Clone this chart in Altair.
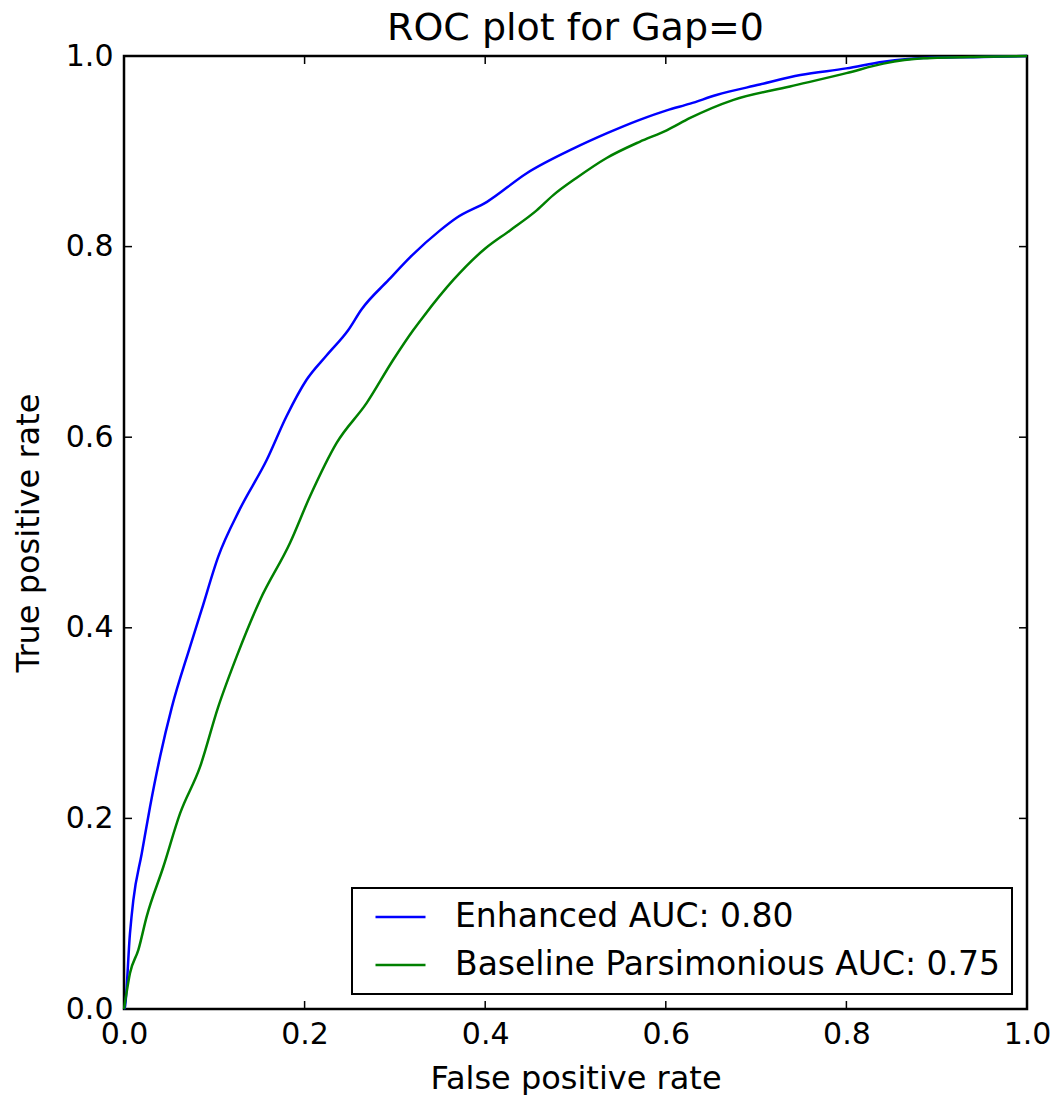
import altair as alt
import pandas as pd

# ---- data ----
enh_label = "Enhanced AUC: 0.80"
base_label = "Baseline Parsimonious AUC: 0.75"

enh_fpr = [0.0, 0.001, 0.0066, 0.0103, 0.0196, 0.0288, 0.040, 0.0528, 0.0731, 0.086,
           0.1045, 0.128, 0.158, 0.180, 0.202, 0.2245, 0.2484, 0.263, 0.293, 0.317,
           0.350, 0.368, 0.402, 0.446, 0.498, 0.535, 0.571, 0.601, 0.627, 0.656,
           0.704, 0.749, 0.800, 0.841, 0.885, 0.950, 1.0]
enh_tpr = [0.0, 0.002, 0.079, 0.114, 0.163, 0.212, 0.265, 0.316, 0.380, 0.419,
           0.475, 0.524, 0.576, 0.622, 0.660, 0.686, 0.7125, 0.734, 0.765, 0.789,
           0.817, 0.830, 0.847, 0.877, 0.903, 0.919, 0.933, 0.943, 0.950, 0.959,
           0.970, 0.980, 0.987, 0.994, 0.998, 0.999, 1.0]

base_fpr = [0.0, 0.001, 0.0066, 0.0159, 0.0251, 0.0435, 0.062, 0.0842, 0.104, 0.1248,
            0.1506, 0.1838, 0.206, 0.2355, 0.2688, 0.298, 0.3204, 0.3315, 0.3647, 0.400,
            0.4275, 0.457, 0.4754, 0.501, 0.5345, 0.571, 0.601, 0.627, 0.675, 0.7375,
            0.800, 0.841, 0.885, 0.952, 1.0]
base_tpr = [0.0, 0.006, 0.0375, 0.062, 0.097, 0.149, 0.205, 0.254, 0.316, 0.370,
            0.429, 0.489, 0.538, 0.594, 0.636, 0.681, 0.7125, 0.7265, 0.765, 0.798,
            0.817, 0.838, 0.854, 0.872, 0.893, 0.910, 0.922, 0.935, 0.954, 0.968,
            0.982, 0.992, 0.9976, 0.9993, 1.0]

tick_values = [0.0, 0.2, 0.4, 0.6, 0.8, 1.0]

W, H = 903, 953
FONT = "DejaVu Sans"

enh_df = pd.DataFrame({"fpr": enh_fpr, "tpr": enh_tpr, "model": enh_label,
                       "i": range(len(enh_fpr))})
base_df = pd.DataFrame({"fpr": base_fpr, "tpr": base_tpr, "model": base_label,
                        "i": range(len(base_fpr))})
ticks_df = pd.DataFrame({"t": tick_values})

xs = alt.Scale(domain=[0, 1], nice=False, zero=False)
ys = alt.Scale(domain=[0, 1], nice=False, zero=False)
color = alt.Color(
    "model:N",
    scale=alt.Scale(domain=[enh_label, base_label], range=["#0000ff", "#008000"]),
    legend=alt.Legend(
        title=None, orient="bottom-right", offset=15,
        strokeColor="black", fillColor="white", padding=11, cornerRadius=0,
        symbolType="stroke", symbolSize=2500, symbolStrokeWidth=2.5, symbolOffset=11,
        labelFontSize=33, labelFont=FONT, labelColor="black", labelLimit=1000,
        labelOffset=28, rowPadding=12, clipHeight=36,
    ),
)

x_enc = alt.X("fpr:Q", scale=xs, title="False positive rate",
              axis=alt.Axis(values=tick_values, format=".1f", ticks=False, domain=False,
                            grid=False, labelFontSize=30, labelFont=FONT, labelColor="black",
                            labelPadding=10, titleFontSize=32, titleFont=FONT,
                            titleFontWeight="normal", titleColor="black", titlePadding=14,
                            labelFlush=False))
y_enc = alt.Y("tpr:Q", scale=ys, title="True positive rate",
              axis=alt.Axis(values=tick_values, format=".1f", ticks=False, domain=False,
                            grid=False, labelFontSize=30, labelFont=FONT, labelColor="black",
                            labelPadding=11, titleFontSize=32, titleFont=FONT,
                            titleFontWeight="normal", titleColor="black", titlePadding=20,
                            labelFlush=False))

enh_line = alt.Chart(enh_df).mark_line(strokeWidth=2.5, interpolate="monotone").encode(
    x=x_enc, y=y_enc, color=color, order="i:Q")
base_line = alt.Chart(base_df).mark_line(strokeWidth=2.5, interpolate="monotone").encode(
    x="fpr:Q", y="tpr:Q", color=color, order="i:Q")

tk = alt.Chart(ticks_df).mark_rule(color="black", strokeWidth=1.5)
bottom_ticks = tk.encode(x=alt.X("t:Q", scale=xs), y=alt.value(H), y2=alt.value(H - 8))
top_ticks = tk.encode(x=alt.X("t:Q", scale=xs), y=alt.value(0), y2=alt.value(8))
left_ticks = tk.encode(y=alt.Y("t:Q", scale=ys), x=alt.value(0), x2=alt.value(8))
right_ticks = tk.encode(y=alt.Y("t:Q", scale=ys), x=alt.value(W), x2=alt.value(W - 8))

chart = alt.layer(
    bottom_ticks, top_ticks, left_ticks, right_ticks, enh_line, base_line
).properties(
    width=W, height=H,
    title=alt.Title("ROC plot for Gap=0", fontSize=38, font=FONT, fontWeight="normal",
                    color="black", offset=-7, anchor="middle"),
    autosize=alt.AutoSizeParams(type="none"),
    padding={"left": 116, "top": 48, "right": 24, "bottom": 86},
    background="white",
).configure_view(
    stroke="black", strokeWidth=2.5
).configure_legend(
    strokeWidth=2
)

chart.save("out.html", embed_options={"renderer": "svg", "actions": False})
